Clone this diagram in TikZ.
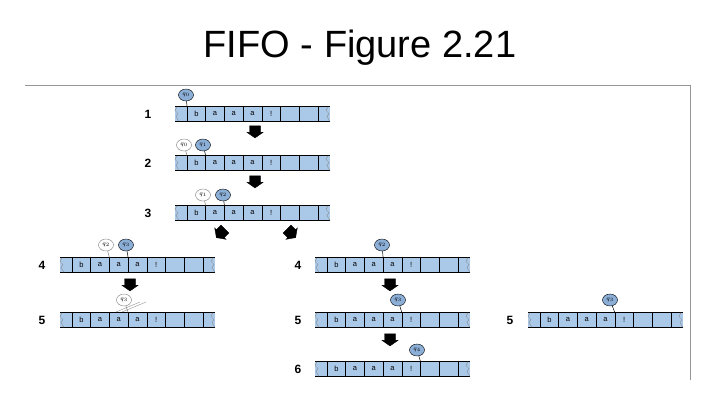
\documentclass[tikz,border=0pt]{standalone}
\usepackage{fontspec}
\setmainfont{Liberation Sans}
\usetikzlibrary{shapes.geometric,shapes.arrows,positioning}

\definecolor{tapeblue}{RGB}{170,200,232}
\definecolor{headblue}{RGB}{140,175,215}
\definecolor{framegray}{RGB}{150,150,150}

\tikzset{
  head/.style={ellipse, draw, line width=0.4pt, inner sep=0pt, minimum width=15pt, minimum height=12pt, font=\fontsize{6}{6}\selectfont},
  live/.style={head, fill=headblue},
  old/.style={head, fill=white, draw=gray},
  move/.style={single arrow, fill=black, draw=black, minimum height=12pt, minimum width=16pt, single arrow head extend=1pt, single arrow tip angle=110, inner sep=2pt},
  row/.style={font=\bfseries\fontsize{12}{12}\selectfont}
}

% name, x, y
\newcommand\tape[3]{%
  \fill[tapeblue] (#2,#3-7.5) rectangle ++(155,15);
  \draw[line width=0.8pt] (#2,#3-7.5) -- ++(155,0) (#2,#3+7.5) -- ++(155,0);
  \foreach \k in {0,...,7}
    \draw[line width=0.6pt] (#2+12+18.7*\k,#3-7.5) coordinate (#1-\k) -- ++(0,15);
  \draw[line width=0.3pt,gray] (#2+2,#3-7.5) -- ++(-2,4) -- ++(3,3) -- ++(-2,3) -- ++(3,5);
  \draw[line width=0.3pt,gray] (#2+153,#3-7.5) -- ++(-2,4) -- ++(3,3) -- ++(-2,3) -- ++(3,5);
  \foreach \c [count=\i from 0] in {b,a,a,a,!}
    \node[font=\fontsize{7.5}{7.5}\selectfont] at (#2+21.35+18.7*\i,#3) {\c};
}

\begin{document}
\begin{tikzpicture}[x=1pt,y=-1pt]
  \useasboundingbox (0,0) rectangle (720,405);
  \fill[white] (0,0) rectangle (720,405);
  \node[font=\fontsize{38}{38}\selectfont] (title) at (360,48) {FIFO - Figure 2.21};
  \draw[framegray,line width=1pt] (25,85) -- (690,85) -- (690,380);

  % tapes
  \tape{t1}{175}{114}
  \tape{t2}{175}{163}
  \tape{t3}{175}{213}
  \tape{a4}{60}{265}
  \tape{a5}{60}{320}
  \tape{b4}{315}{265}
  \tape{b5}{315}{320}
  \tape{b6}{315}{369}
  \tape{c5}{528}{320}

  % row numbers
  \node[row] (n1) at (148,114) {1};
  \node[row] (n2) at (148,163) {2};
  \node[row] (n3) at (148,213) {3};
  \node[row] (na4) at (42,265) {4};
  \node[row] (na5) at (42,320) {5};
  \node[row] (nb4) at (298,265) {4};
  \node[row] (nb5) at (298,320) {5};
  \node[row] (nb6) at (298,369) {6};
  \node[row] (nc5) at (510,320) {5};

  % heads
  \node[live] (h1a) at (186,95) {$q_0$};
  \node[old] (h2a) at (184,145) {$q_0$};
  \node[live] (h2b) at (203,145) {$q_1$};
  \node[old] (h3a) at (203,195) {$q_1$};
  \node[live] (h3b) at (223,195) {$q_2$};
  \node[old] (ha4a) at (106,245) {$q_2$};
  \node[live] (ha4b) at (126,245) {$q_3$};
  \node[old] (ha5a) at (124,300) {$q_3$};
  \node[live] (hb4a) at (382,245) {$q_2$};
  \node[live] (hb5a) at (398,300) {$q_3$};
  \node[live] (hb6a) at (417,350) {$q_4$};
  \node[live] (hc5a) at (610,300) {$q_3$};

  \draw[line width=0.5pt] (h1a) -- (t1-0);
  \draw[line width=0.5pt,gray] (h2a) -- (t2-0);
  \draw[line width=0.5pt] (h2b) -- (t2-1);
  \draw[line width=0.5pt,gray] (h3a) -- (t3-1);
  \draw[line width=0.5pt] (h3b) -- (t3-2);
  \draw[line width=0.5pt,gray] (ha4a) -- (a4-2);
  \draw[line width=0.5pt] (ha4b) -- (a4-3);
  \draw[line width=0.5pt,gray] (ha5a) -- (a5-3);
  \draw[line width=0.3pt,gray] (116,312) -- (140,302) (122,312) -- (146,302);
  \draw[line width=0.5pt] (hb4a) -- (b4-3);
  \draw[line width=0.5pt] (hb5a) -- (b5-4);
  \draw[line width=0.5pt] (hb6a) -- (b6-5);
  \draw[line width=0.5pt] (hc5a) -- (c5-4);

  % moves
  \node[move, rotate=-90] (s12) at (255,130) {};
  \node[move, rotate=-90] (s23) at (255,180) {};
  \node[move, rotate=-135] (s3a) at (222,232) {};
  \node[move, rotate=-45] (s3b) at (290,232) {};
  \node[move, rotate=-90] (sa45) at (130,283) {};
  \node[move, rotate=-90] (sb45) at (390,283) {};
  \node[move, rotate=-90] (sb56) at (390,338) {};
\end{tikzpicture}
\end{document}
